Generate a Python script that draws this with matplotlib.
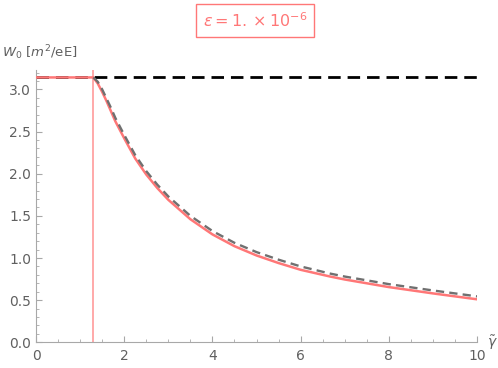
import numpy as np
import matplotlib

matplotlib.use("Agg")
import matplotlib.pyplot as plt
from matplotlib.ticker import MultipleLocator

plt.rcParams["font.family"] = ["DejaVu Sans"]
plt.rcParams["mathtext.fontset"] = "dejavusans"

# threshold and plateau value
gamma_c = 1.3
w_plateau = 3.1416

# red curve
gamma_red = [0.0, 1.3, 1.4, 1.5, 1.6, 1.7, 1.8, 2.0, 2.25, 2.5, 2.75, 3.0, 3.5,
             4.0, 4.5, 5.0, 5.5, 6.0, 6.67, 7.0, 8.0, 9.0, 10.0]
w_red = [3.1416, 3.1416, 3.07, 2.97, 2.86, 2.74, 2.62, 2.42, 2.18, 1.99, 1.83,
         1.69, 1.46, 1.28, 1.14, 1.03, 0.94, 0.86, 0.78, 0.745, 0.655, 0.58, 0.51]

# grey dashed approximation
gamma_grey = [1.3, 1.4, 1.5, 1.6, 1.7, 1.8, 2.0, 2.25, 2.5, 2.75, 3.0, 3.5,
              4.0, 4.5, 5.0, 5.5, 6.0, 6.67, 7.0, 8.0, 9.0, 10.0]
w_grey = [3.1416, 3.09, 3.00, 2.89, 2.78, 2.66, 2.46, 2.22, 2.03, 1.87,
          1.73, 1.50, 1.32, 1.18, 1.07, 0.98, 0.90, 0.815, 0.78, 0.69, 0.615, 0.545]

RED = "#FF7777"
PINK = "#FFA3A3"
GREY_TXT = "#606060"
AX = "#A8A8A8"

fig = plt.figure(figsize=(4.98, 3.68), dpi=100)
ax = fig.add_axes([0.0723, 0.0698, 0.8857, 0.740])

ax.plot([0, 10], [w_plateau, w_plateau], color="black", lw=2.0,
        dashes=(4.5, 2.5), zorder=2)
ax.axvline(gamma_c, color=PINK, lw=1.3, zorder=1)
ax.plot(gamma_red, w_red, color=RED, lw=1.8, zorder=3, solid_capstyle="butt")
ax.plot(gamma_grey, w_grey, color="#707070", lw=1.7, dashes=(3.5, 2.2), zorder=4)

ax.set_xlim(0, 10)
ax.set_ylim(0, 3.23)
ax.spines["top"].set_visible(False)
ax.spines["right"].set_visible(False)
for s in ("left", "bottom"):
    ax.spines[s].set_color(AX)
    ax.spines[s].set_linewidth(0.8)

ax.xaxis.set_major_locator(MultipleLocator(2))
ax.xaxis.set_minor_locator(MultipleLocator(0.5))
ax.yaxis.set_major_locator(MultipleLocator(0.5))
ax.yaxis.set_minor_locator(MultipleLocator(0.1))
ax.tick_params(which="both", direction="in", color=AX, labelcolor=GREY_TXT,
               labelsize=10)
ax.tick_params(which="major", length=4, width=0.8)
ax.tick_params(which="minor", length=2.2, width=0.6)
ax.tick_params(axis="x", pad=5)
ax.set_xticks([0, 2, 4, 6, 8, 10])
ax.set_xticklabels(["0", "2", "4", "6", "8", "10"])
ax.set_yticks([0, 0.5, 1.0, 1.5, 2.0, 2.5, 3.0])
ax.set_yticklabels(["0.0", "0.5", "1.0", "1.5", "2.0", "2.5", "3.0"])

fig.text(0.004, 0.858, r"$W_0$ [$m^2$/eE]", color=GREY_TXT, fontsize=9.5,
         ha="left", va="center")
fig.text(0.978, 0.068, r"$\tilde{\gamma}$", color=GREY_TXT, fontsize=10,
         ha="left", va="center")

fig.text(0.512, 0.945, r"$\epsilon = 1.\times 10^{-6}$", color=RED, fontsize=11.5,
         ha="center", va="center",
         bbox=dict(boxstyle="square,pad=0.45", facecolor="white", edgecolor=RED,
                   linewidth=1.0))

fig.savefig("out.png", dpi=100)
